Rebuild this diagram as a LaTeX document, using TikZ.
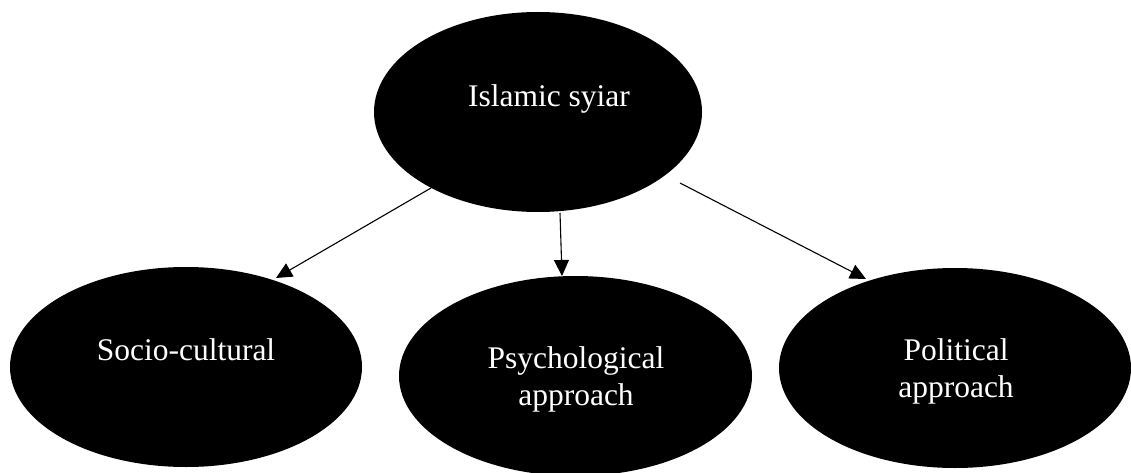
\documentclass[tikz,border=0pt]{standalone}
\usepackage{fontspec}
\setmainfont{Liberation Serif}
\usetikzlibrary{arrows.meta,shapes.geometric}
\begin{document}
\begin{tikzpicture}[x=1pt,y=-1pt,
  oval/.style={ellipse, fill=black, draw=none, inner sep=0pt},
  txt/.style={text=white, font=\fontsize{31.5}{37}\selectfont, align=center, inner sep=0pt},
  conn/.style={draw=black, line width=1.1pt, -{Triangle[length=16pt,width=15pt]}}]
\useasboundingbox (0,0) rectangle (1131,473);
% ellipses
\node[oval, minimum width=328pt, minimum height=200pt] (top) at (538,112) {};
\node[oval, minimum width=352pt, minimum height=200pt] (soc) at (186,367) {};
\node[oval, minimum width=353pt, minimum height=200pt] (psy) at (575.5,376) {};
\node[oval, minimum width=352pt, minimum height=200pt] (pol) at (955,368) {};
% texts
\node[txt, anchor=base] (toptxt) at (549,107) {Islamic syiar};
\node[txt, anchor=base] (soctxt) at (186,360) {Socio-cultural};
\node[txt, anchor=base] (psytxt) at (576,368) {Psychological};
\node[txt, anchor=base] (psytxtb) at (576,405) {approach};
\node[txt, anchor=base] (poltxt) at (956,360) {Political};
\node[txt, anchor=base] (poltxtb) at (956,397) {approach};
% connector ends
\coordinate (a1s) at (431,188);
\coordinate (a1e) at (276,278);
\coordinate (a2s) at (560,213);
\coordinate (a2e) at (562,276);
\coordinate (a3s) at (680,183);
\coordinate (a3e) at (866,279);
\draw[conn] (a1s) -- (a1e);
\draw[conn] (a2s) -- (a2e);
\draw[conn] (a3s) -- (a3e);
\end{tikzpicture}
\end{document}
